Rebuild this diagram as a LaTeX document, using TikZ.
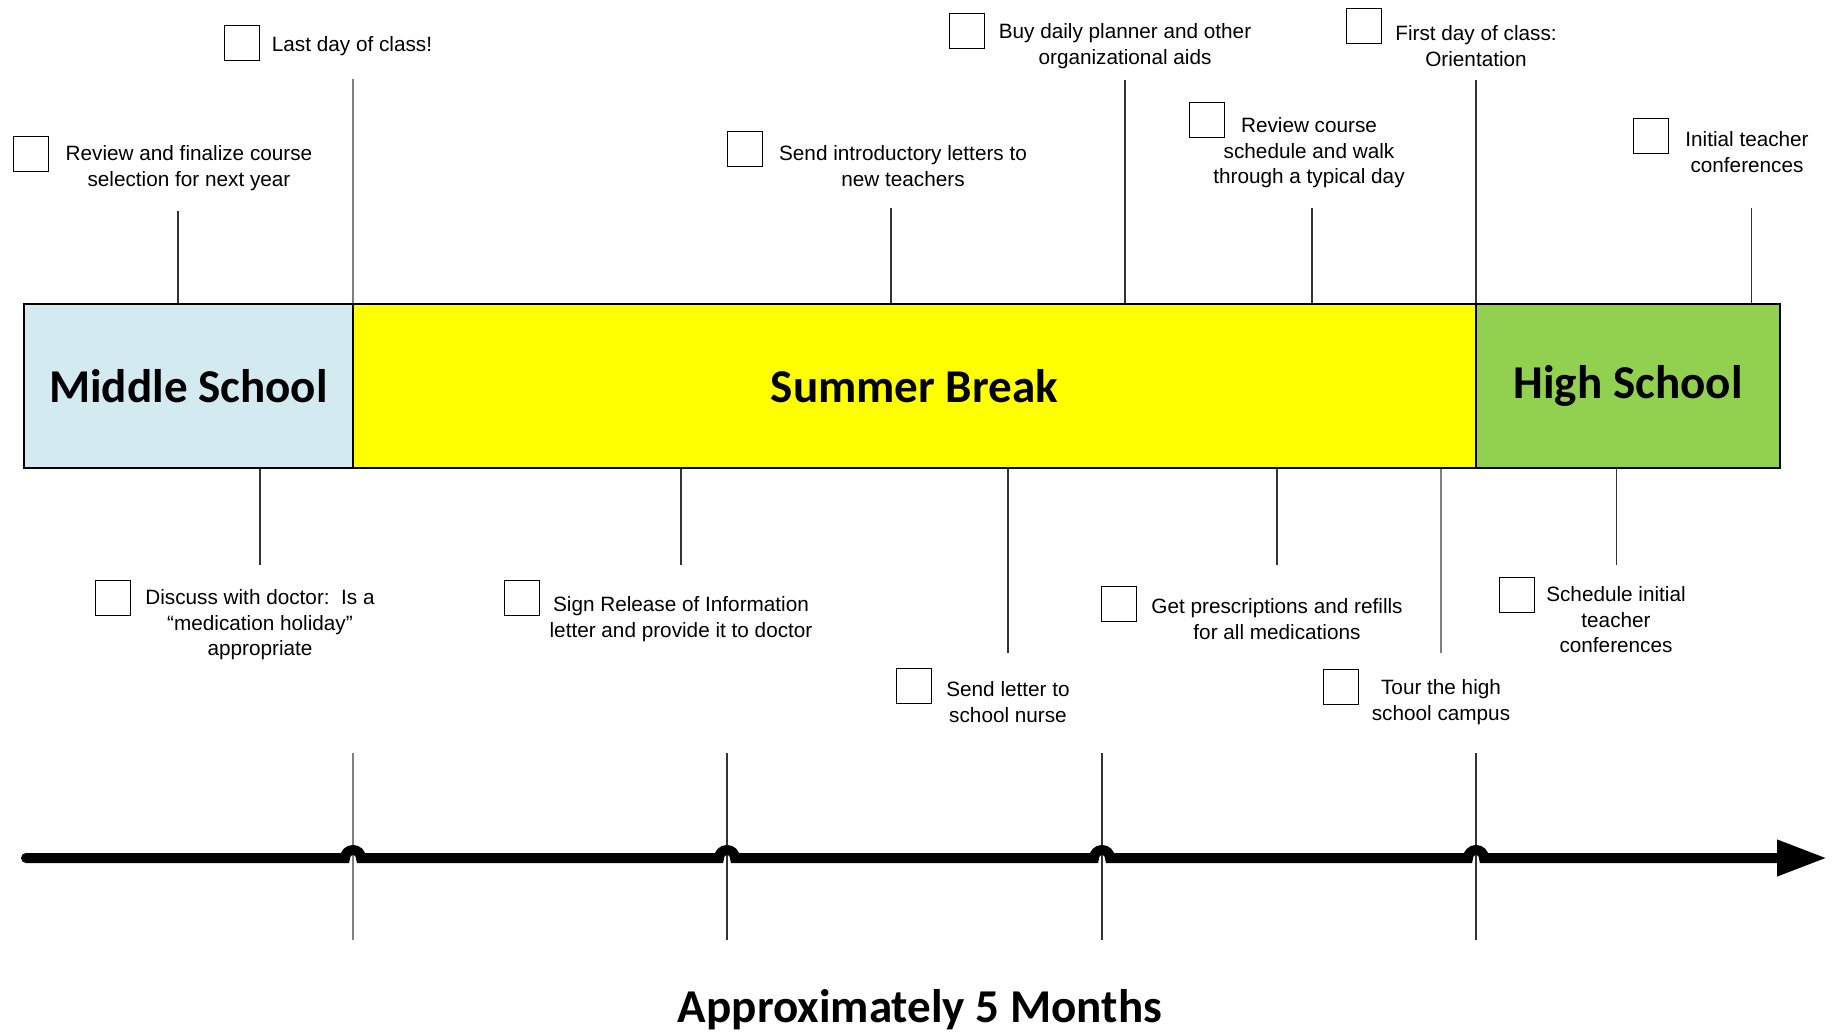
\documentclass[tikz,border=0pt]{standalone}
\usepackage{fontspec}
\setmainfont{Liberation Sans}
\newfontfamily\bandfont{Carlito}
\usetikzlibrary{arrows.meta}

\definecolor{msblue}{HTML}{D2EAF0}
\definecolor{sbyellow}{HTML}{FFFF00}
\definecolor{hsgreen}{HTML}{92D050}

\tikzset{
  chk/.style={draw, line width=0.6pt, minimum size=0.7cm, inner sep=0pt},
  task/.style={align=center, inner sep=0pt, font=\fontsize{11.8}{14.5}\selectfont},
  band/.style={draw, line width=1.5pt, minimum height=3.28cm, inner sep=0pt,
    font=\bandfont\bfseries\fontsize{26.8}{30}\selectfont},
  lead/.style={line width=0.6pt, black!80},
  leadg/.style={line width=1.1pt, gray},
  timeline/.style={line width=0.2cm, line cap=round, -{Triangle[length=1cm, width=0.68cm]}},
}

\begin{document}
\begin{tikzpicture}[x=0.02cm, y=-0.02cm]
    \useasboundingbox (0,0) rectangle (1834,1034);

    % --- 1. bands ---
    \node[band, fill=msblue, minimum width=6.58cm] (ms) at (188.5,386) {Middle School};
    \node[band, fill=sbyellow, minimum width=22.46cm] (sb) at (914.5,386) {Summer Break};
    \node[band, fill=hsgreen, minimum width=6.08cm] (hs) at (1628,386) {High School};

    % --- 2. tasks above the bands ---
    \node[task] (t1) at (189,168) {Review and finalize course\\selection for next year};
    \node[chk] (c1) at (31,154) {};
    \node[task] (t2) at (352,46) {Last day of class!};
    \node[chk] (c2) at (242,43) {};
    \node[task] (t3) at (903,166) {Send introductory letters to\\new teachers};
    \node[chk] (c3) at (745,149) {};
    \node[task] (t4) at (1125,46) {Buy daily planner and other\\organizational aids};
    \node[chk] (c4) at (967,31) {};
    \node[task] (t5) at (1476,46) {First day of class:\\Orientation};
    \node[chk] (c5) at (1364,26) {};
    \node[task] (t6) at (1309,153) {Review course\\schedule and walk\\through a typical day};
    \node[chk] (c6) at (1207,120) {};
    \node[task] (t7) at (1747,152) {Initial teacher\\conferences};
    \node[chk] (c7) at (1651,136) {};

    \coordinate (u1) at (178,211);
    \coordinate (u2) at (353,79);
    \coordinate (u3) at (891,208);
    \coordinate (u4) at (1125,80);
    \coordinate (u5) at (1476,80);
    \coordinate (u6) at (1312,208);
    \coordinate (u7) at (1751,208);
    \draw[lead] (u1) -- (u1 |- ms.north);
    \draw[leadg] (u2) -- (u2 |- ms.north);
    \draw[lead] (u3) -- (u3 |- sb.north);
    \draw[lead] (u4) -- (u4 |- sb.north);
    \draw[lead] (u5) -- (u5 |- sb.north);
    \draw[lead] (u6) -- (u6 |- sb.north);
    \draw[lead] (u7) -- (u7 |- hs.north);

    % --- 3. tasks below the bands ---
    \node[task] (t8) at (260,625) {Discuss with doctor:\ \ Is a\\“medication holiday”\\appropriate};
    \node[chk] (c8) at (113,598) {};
    \node[task] (t9) at (681,619) {Sign Release of Information\\letter and provide it to doctor};
    \node[chk] (c9) at (522,598) {};
    \node[task] (t10) at (1008,702) {Send letter to\\school nurse};
    \node[chk] (c10) at (914,686) {};
    \node[task] (t11) at (1277,619) {Get prescriptions and refills\\for all medications};
    \node[chk] (c11) at (1119,604) {};
    \node[task] (t12) at (1441,702) {Tour the high\\school campus};
    \node[chk] (c12) at (1341,687) {};
    \node[task] (t13) at (1616,620) {Schedule initial\\teacher\\conferences};
    \node[chk] (c13) at (1517,595) {};

    \coordinate (d8) at (260,565);
    \coordinate (d9) at (681,565);
    \coordinate (d10) at (1008,653);
    \coordinate (d11) at (1277,565);
    \coordinate (d12) at (1441,653);
    \coordinate (d13) at (1616,565);
    \draw[lead] (d8 |- ms.south) -- (d8);
    \draw[lead] (d9 |- sb.south) -- (d9);
    \draw[lead] (d10 |- sb.south) -- (d10);
    \draw[lead] (d11 |- sb.south) -- (d11);
    \draw[leadg] (d12 |- sb.south) -- (d12);
    \draw[lead] (d13 |- hs.south) -- (d13);

    % --- 4. time axis ---
    \foreach \m/\x in {1/353, 2/727, 3/1102, 4/1476} {
        \coordinate (k\m a) at (\x,753);
        \coordinate (k\m b) at (\x,940);
    }
    \draw[leadg] (k1a) -- (k1b);
    \draw[lead] (k2a) -- (k2b);
    \draw[lead] (k3a) -- (k3b);
    \draw[lead] (k4a) -- (k4b);

    \coordinate (tl) at (26,858);
    \coordinate (tr) at (1827,858);
    \draw[timeline] (tl) -- (345,858) arc[start angle=180, end angle=0, radius=0.16cm]
        -- (719,858) arc[start angle=180, end angle=0, radius=0.16cm]
        -- (1094,858) arc[start angle=180, end angle=0, radius=0.16cm]
        -- (1468,858) arc[start angle=180, end angle=0, radius=0.16cm]
        -- (tr);

    \node[font=\bandfont\bfseries\fontsize{26.8}{30}\selectfont] (span) at (920,1010) {Approximately 5 Months};
\end{tikzpicture}
\end{document}
